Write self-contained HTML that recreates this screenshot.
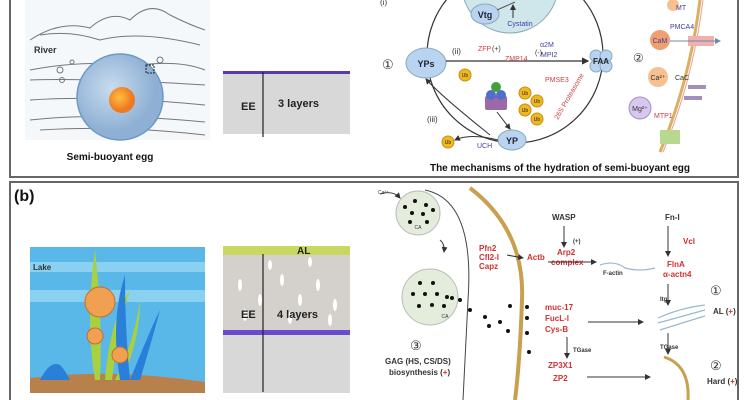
<!DOCTYPE html>
<html><head><meta charset="utf-8"><style>
html,body{margin:0;padding:0;background:#fff;width:750px;height:400px;overflow:hidden}
svg{display:block;font-family:"Liberation Sans",sans-serif}
.b{font-weight:bold}
</style></head><body>
<svg width="750" height="400" viewBox="0 0 750 400" xmlns="http://www.w3.org/2000/svg">
<defs>
<marker id="ar" markerWidth="6" markerHeight="6" refX="5" refY="3" orient="auto"><path d="M0,0 L6,3 L0,6 z" fill="#333"/></marker>
<marker id="arb" markerWidth="6" markerHeight="6" refX="5" refY="3" orient="auto"><path d="M0,0 L6,3 L0,6 z" fill="#6a8aa8"/></marker>
<radialGradient id="egg" cx="0.4" cy="0.4"><stop offset="0" stop-color="#c8dcef"/><stop offset="1" stop-color="#8fb0d4"/></radialGradient>
<radialGradient id="yolk" cx="0.4" cy="0.4"><stop offset="0" stop-color="#ffc040"/><stop offset="1" stop-color="#f07820"/></radialGradient>
</defs>
<!-- panel borders -->
<rect x="10" y="-3" width="728" height="180" fill="none" stroke="#666" stroke-width="2"/>
<rect x="10" y="182" width="728" height="222" fill="none" stroke="#666" stroke-width="2"/>

<!-- (a) river scene -->
<rect x="25" y="0" width="185" height="140" fill="#f4f8fb"/>
<g stroke="#777" fill="none" stroke-width="1">
<path d="M30,40 Q60,20 90,28 Q110,10 130,20 Q150,0 170,15 Q190,25 205,30"/>
<path d="M40,35 Q70,30 100,40 Q140,30 200,45"/>
<path d="M30,70 Q80,60 140,65 Q180,60 205,70"/>
<path d="M30,80 Q90,78 205,85"/><path d="M30,100 Q100,95 205,105"/>
<path d="M30,120 Q100,112 205,122"/><path d="M40,130 Q120,125 205,135"/>
<circle cx="60" cy="70" r="3"/><circle cx="72" cy="62" r="2"/><circle cx="62" cy="80" r="2.5"/><circle cx="160" cy="60" r="3"/>
</g>
<circle cx="120" cy="97" r="43" fill="url(#egg)" stroke="#6a9ac8" stroke-width="1.5"/>
<circle cx="122" cy="100" r="13" fill="url(#yolk)"/>
<rect x="146" y="65" width="8" height="8" fill="none" stroke="#222" stroke-dasharray="2,1"/>
<text x="34" y="53" font-size="9" class="b" fill="#333">River</text>
<text x="110" y="160" font-size="10" class="b" text-anchor="middle" fill="#111">Semi-buoyant egg</text>

<!-- EE 3 layers -->
<rect x="223" y="72" width="127" height="62" fill="#d8d8d8"/>
<path d="M223,134 q5,3 10,0 q5,3 10,0 q5,3 10,0 q5,3 10,0 q5,3 10,0 q5,3 10,0 q5,3 10,0 q5,3 10,0 q5,3 10,0 q5,3 10,0 q5,3 10,0 q5,3 10,0 q5,3 7,0 L350,140 L223,140z" fill="#fff"/>
<rect x="223" y="71" width="127" height="3" fill="#5a3aa8"/>
<line x1="263" y1="72" x2="263" y2="137" stroke="#222" stroke-width="1.2"/>
<text x="241" y="110" font-size="11" class="b" fill="#222">EE</text>
<text x="278" y="107" font-size="11" class="b" fill="#222">3 layers</text>

<!-- (a) mechanism circle -->
<circle cx="515" cy="55" r="88" fill="none" stroke="#333" stroke-width="1.2"/>
<circle cx="510" cy="-15" r="48" fill="#cfe6ea" stroke="#8ab" stroke-width="1"/>
<ellipse cx="485" cy="14" rx="14" ry="10" fill="#b8d4f0" stroke="#8ab"/>
<text x="485" y="18" font-size="9" class="b" text-anchor="middle" fill="#223">Vtg</text>
<text x="520" y="26" font-size="7" text-anchor="middle" fill="#4040a0">Cystatin</text>
<line x1="513" y1="18" x2="513" y2="5" stroke="#333" marker-end="url(#ar)"/>
<line x1="497" y1="10" x2="515" y2="2" stroke="#555"/>
<text x="380" y="5" font-size="8" fill="#333">(i)</text>
<text x="382" y="69" font-size="13" fill="#333">①</text>
<ellipse cx="426" cy="63" rx="20" ry="15" fill="#b8d4f0" stroke="#8ab"/>
<text x="426" y="67" font-size="9" class="b" text-anchor="middle" fill="#223">YPs</text>
<g fill="#b8d4f0" stroke="#8ab"><circle cx="596" cy="56" r="6"/><circle cx="606" cy="56" r="6"/><circle cx="596" cy="66" r="6"/><circle cx="606" cy="66" r="6"/></g>
<text x="601" y="64" font-size="8" class="b" text-anchor="middle" fill="#223">FAA</text>
<line x1="446" y1="61" x2="588" y2="61" stroke="#333" stroke-width="1.2" marker-end="url(#ar)"/>
<text x="452" y="54" font-size="8" fill="#333">(ii)</text>
<text x="478" y="51" font-size="7" fill="#d04040">ZFP</text><text x="492" y="51" font-size="7" fill="#333">(+)</text>
<text x="505" y="61" font-size="7" fill="#d04040">ZMP14</text>
<text x="535" y="55" font-size="7" fill="#333">(-)</text>
<text x="540" y="47" font-size="7" fill="#4040a0">α2M</text><text x="541" y="57" font-size="7" fill="#4040a0">MPI2</text>
<text x="545" y="82" font-size="7" fill="#d04040">PMSE3</text>
<text x="558" y="120" font-size="7" fill="#d04040" transform="rotate(-60 558 120)">26S Proteasome</text>
<g fill="#f0b820" stroke="#c89010"><circle cx="465" cy="75" r="6"/><circle cx="525" cy="93" r="6"/><circle cx="537" cy="101" r="6"/><circle cx="525" cy="110" r="6"/><circle cx="537" cy="119" r="6"/><circle cx="448" cy="142" r="6"/></g>
<g font-size="5" fill="#222" text-anchor="middle"><text x="465" y="77">Ub</text><text x="525" y="95">Ub</text><text x="537" y="103">Ub</text><text x="525" y="112">Ub</text><text x="537" y="121">Ub</text><text x="448" y="144">Ub</text></g>
<rect x="485" y="96" width="22" height="14" rx="2" fill="#9a6aa8"/>
<circle cx="491" cy="95" r="5" fill="#5070c8"/><circle cx="501" cy="95" r="5" fill="#5070c8"/><circle cx="496" cy="87" r="5" fill="#40a040"/>
<ellipse cx="512" cy="140" rx="14" ry="10" fill="#b8d4f0" stroke="#8ab"/>
<text x="512" y="144" font-size="9" class="b" text-anchor="middle" fill="#223">YP</text>
<text x="427" y="122" font-size="8" fill="#333">(iii)</text>
<text x="477" y="148" font-size="7" fill="#4040a0">UCH</text>
<path d="M498,140 Q470,133 455,140" fill="none" stroke="#333" marker-end="url(#ar)"/>
<path d="M490,135 Q440,95 426,79" fill="none" stroke="#333" marker-end="url(#ar)"/>
<line x1="497" y1="112" x2="510" y2="129" stroke="#333" marker-end="url(#ar)"/>
<text x="560" y="171" font-size="10" class="b" text-anchor="middle" fill="#111">The mechanisms of the hydration of semi-buoyant egg</text>
<!-- membrane right -->
<path d="M700,0 Q690,80 660,152" fill="none" stroke="#d8b060" stroke-width="3"/>
<path d="M703,0 Q693,80 663,152" fill="none" stroke="#e8a090" stroke-width="1"/>
<circle cx="673" cy="5" r="6" fill="#f8c090"/><text x="676" y="10" font-size="7" fill="#4040a0">MT</text>
<text x="670" y="29" font-size="7" fill="#4040a0">PMCA4</text>
<circle cx="660" cy="40" r="10" fill="#f0a070"/><text x="660" y="43" font-size="7" fill="#4040a0" text-anchor="middle">CaM</text>
<rect x="688" y="36" width="26" height="10" fill="#f0b0b0"/>
<line x1="670" y1="41" x2="720" y2="41" stroke="#6a8aa8" marker-end="url(#arb)"/>
<text x="633" y="62" font-size="12" fill="#333">②</text>
<circle cx="658" cy="77" r="10" fill="#f8c090"/><text x="658" y="80" font-size="7" text-anchor="middle" fill="#333">Ca²⁺</text>
<text x="675" y="80" font-size="7" fill="#333">CaC</text>
<rect x="688" y="85" width="18" height="4" fill="#a090c0"/><rect x="684" y="96" width="18" height="4" fill="#a090c0"/>
<circle cx="640" cy="108" r="11" fill="#d8c8f0" stroke="#a090c0"/><text x="640" y="111" font-size="7" text-anchor="middle" fill="#333">Mg²⁺</text>
<text x="654" y="118" font-size="7" fill="#d04040">MTP1</text>
<rect x="660" y="130" width="20" height="14" fill="#b8d890"/>

<!-- (b) -->
<text x="14" y="201" font-size="16" class="b" fill="#111">(b)</text>
<rect x="30" y="247" width="175" height="146" fill="#5ab8e8"/>
<rect x="30" y="262" width="175" height="10" fill="#8ad0f0"/>
<rect x="30" y="290" width="175" height="12" fill="#8ad0f0"/>
<path d="M30,378 Q110,368 205,382 L205,393 L30,393z" fill="#b8804a"/>
<g fill="#a8d040"><path d="M95,380 Q85,320 95,250 Q103,320 100,380z"/><path d="M105,380 Q110,320 130,290 Q118,330 112,380z"/><path d="M115,380 Q135,340 140,300 Q140,340 122,380z"/></g>
<g fill="#2a80d8"><path d="M120,380 Q110,320 125,275 Q125,330 130,380z"/><path d="M130,380 Q150,330 160,310 Q152,340 140,380z"/><path d="M40,380 Q50,360 60,365 Q65,370 70,380z"/></g>
<circle cx="100" cy="302" r="15" fill="#f0a050" stroke="#c07030"/>
<circle cx="95" cy="336" r="8" fill="#f0a050" stroke="#c07030"/>
<circle cx="120" cy="355" r="8" fill="#f0a050" stroke="#c07030"/>
<text x="33" y="270" font-size="8" class="b" fill="#333">Lake</text>
<rect x="223" y="247" width="127" height="146" fill="#d4d0cc"/>
<rect x="223" y="333" width="127" height="60" fill="#d8d8d8"/>
<g fill="#fff"><ellipse cx="240" cy="285" rx="2" ry="6"/><ellipse cx="260" cy="300" rx="2" ry="6"/><ellipse cx="282" cy="280" rx="2" ry="6"/><ellipse cx="300" cy="300" rx="2" ry="6"/><ellipse cx="318" cy="285" rx="2" ry="6"/><ellipse cx="335" cy="305" rx="2" ry="6"/><ellipse cx="245" cy="315" rx="2" ry="6"/><ellipse cx="290" cy="318" rx="2" ry="6"/><ellipse cx="330" cy="320" rx="2" ry="6"/><ellipse cx="270" cy="265" rx="2" ry="5"/><ellipse cx="310" cy="262" rx="2" ry="5"/></g>
<rect x="223" y="246" width="127" height="9" fill="#c8d860"/>
<rect x="223" y="330" width="127" height="5" fill="#6a4ad0"/>
<line x1="263" y1="254" x2="263" y2="392" stroke="#222" stroke-width="1.2"/>
<text x="297" y="254" font-size="10" class="b" fill="#222">AL</text>
<text x="241" y="318" font-size="11" class="b" fill="#222">EE</text>
<text x="277" y="318" font-size="11" class="b" fill="#222">4 layers</text>

<!-- (b) right -->
<circle cx="418" cy="213" r="22" fill="#e4ecdc" stroke="#bbb"/>
<circle cx="430" cy="297" r="28" fill="#e4ecdc" stroke="#bbb"/>
<text x="418" y="229" font-size="5" text-anchor="middle" fill="#333">CA</text>
<text x="445" y="318" font-size="5" text-anchor="middle" fill="#333">CA</text>
<g fill="#111">
<circle cx="405" cy="207" r="2"/><circle cx="415" cy="201" r="2"/><circle cx="426" cy="205" r="2"/><circle cx="412" cy="213" r="2"/><circle cx="423" cy="214" r="2"/><circle cx="433" cy="210" r="2"/><circle cx="410" cy="222" r="2"/><circle cx="427" cy="222" r="2"/>
<circle cx="420" cy="283" r="2"/><circle cx="433" cy="283" r="2"/><circle cx="413" cy="294" r="2"/><circle cx="425" cy="294" r="2"/><circle cx="437" cy="294" r="2"/><circle cx="447" cy="297" r="2"/><circle cx="419" cy="306" r="2"/><circle cx="432" cy="305" r="2"/><circle cx="444" cy="306" r="2"/><circle cx="452" cy="298" r="2"/><circle cx="460" cy="300" r="2"/><circle cx="470" cy="310" r="2"/><circle cx="485" cy="317" r="2"/><circle cx="500" cy="322" r="2"/><circle cx="508" cy="331" r="2"/><circle cx="489" cy="326" r="2"/><circle cx="510" cy="306" r="2"/><circle cx="527" cy="307" r="2"/><circle cx="527" cy="318" r="2"/><circle cx="527" cy="333" r="2"/><circle cx="529" cy="352" r="2"/></g>
<path d="M425,190 Q475,200 468,300 Q465,360 463,400" fill="none" stroke="#444" stroke-width="1"/>
<path d="M470,188 Q525,230 522,300 Q520,360 515,400" fill="none" stroke="#c8a050" stroke-width="4"/>
<path d="M380,194 Q393,190 400,198" fill="none" stroke="#444" marker-end="url(#ar)"/>
<path d="M440,240 Q445,244 444,252" fill="none" stroke="#444" marker-end="url(#ar)"/>
<text x="378" y="194" font-size="5" fill="#333">Ca²⁺</text>
<g font-size="8" class="b">
<text x="479" y="251" fill="#d03030">Pfn2</text><text x="479" y="260" fill="#d03030">Cfl2-l</text><text x="479" y="269" fill="#d03030">Capz</text>
<text x="527" y="260" fill="#d03030">Actb</text>
<text x="552" y="220" fill="#333">WASP</text><text x="573" y="243" font-size="6" fill="#333">(+)</text>
<text x="557" y="255" fill="#d03030">Arp2</text><text x="551" y="265" fill="#d03030">complex</text>
<text x="603" y="275" font-size="6" fill="#333">F-actin</text>
<text x="665" y="220" fill="#333">Fn-l</text><text x="683" y="244" fill="#d03030">Vcl</text>
<text x="667" y="267" fill="#d03030">FlnA</text><text x="663" y="277" fill="#d03030">α-actn4</text>
<text x="660" y="301" font-size="6" fill="#333">Itg</text>
<text x="545" y="310" fill="#d03030">muc-17</text><text x="545" y="321" fill="#d03030">FucL-l</text><text x="545" y="332" fill="#d03030">Cys-B</text>
<text x="573" y="352" font-size="6" fill="#333">TGase</text>
<text x="548" y="368" fill="#d03030">ZP3X1</text><text x="553" y="381" fill="#d03030">ZP2</text>
<text x="660" y="349" font-size="6" fill="#333">TGase</text>
<text x="713" y="314" fill="#333">AL (<tspan fill="#d03030">+</tspan>)</text>
<text x="707" y="384" fill="#333">Hard (<tspan fill="#d03030">+</tspan>)</text>
<text x="385" y="364" fill="#333">GAG (HS, CS/DS)</text>
<text x="389" y="375" fill="#333">biosynthesis  (<tspan fill="#d03030">+</tspan>)</text>
</g>
<text x="710" y="295" font-size="13" fill="#333">①</text>
<text x="710" y="370" font-size="13" fill="#333">②</text>
<text x="410" y="350" font-size="13" fill="#333">③</text>
<g stroke="#333" stroke-width="1" fill="none">
<line x1="564" y1="226" x2="564" y2="247" marker-end="url(#ar)"/>
<line x1="507" y1="255" x2="523" y2="258" marker-end="url(#ar)"/>
<line x1="548" y1="262" x2="596" y2="262" marker-end="url(#ar)"/>
<line x1="668" y1="226" x2="668" y2="256" marker-end="url(#ar)"/>
<line x1="668" y1="284" x2="668" y2="305" marker-end="url(#ar)"/>
<line x1="588" y1="322" x2="643" y2="322" marker-end="url(#ar)"/>
<line x1="567" y1="337" x2="567" y2="358" marker-end="url(#ar)"/>
<line x1="668" y1="333" x2="668" y2="354" marker-end="url(#ar)"/>
<line x1="587" y1="377" x2="650" y2="377" marker-end="url(#ar)"/>
</g>
<path d="M600,265 Q615,260 625,268 Q640,272 655,268" fill="none" stroke="#9ab8d0" stroke-width="1.2"/>
<g fill="none" stroke="#9ab8d0" stroke-width="1.2"><path d="M658,318 Q680,308 705,305"/><path d="M658,323 Q683,316 705,310"/><path d="M660,330 Q685,322 705,316"/></g>
<path d="M664,357 Q690,365 688,400" fill="none" stroke="#c8a050" stroke-width="3"/>
</svg>
</body></html>
